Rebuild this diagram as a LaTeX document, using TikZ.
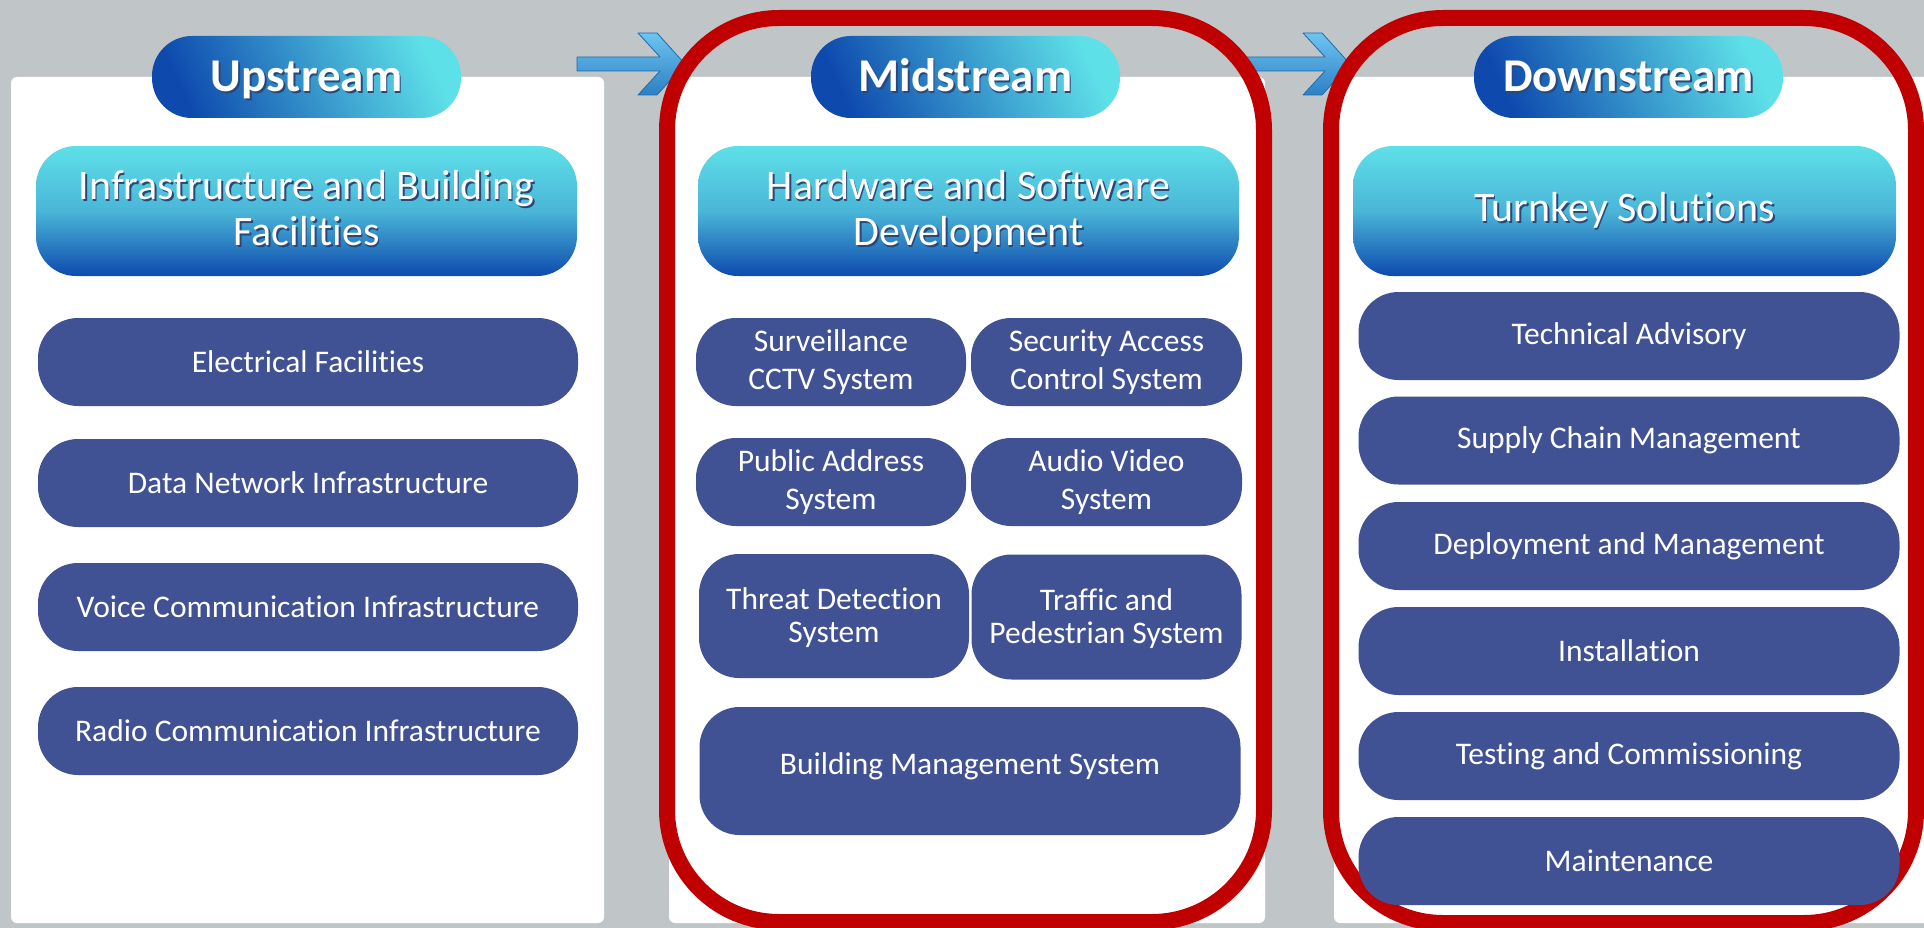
\documentclass[tikz,border=0pt]{standalone}
\usepackage{fontspec}
\setmainfont{Carlito}[Ligatures=NoCommon]
\usetikzlibrary{calc}

\definecolor{bggray}{RGB}{192,198,199}
\definecolor{itemblue}{RGB}{65,82,148}
\definecolor{framered}{RGB}{192,0,0}
\definecolor{deepblue}{RGB}{14,74,174}
\definecolor{lightcyan}{RGB}{94,224,232}
\definecolor{midcyan}{RGB}{74,182,216}
\definecolor{arrowlight}{RGB}{110,196,240}
\definecolor{arrowblue}{RGB}{44,128,196}
\definecolor{arrowdark}{RGB}{34,104,170}
\definecolor{txtshadow}{RGB}{42,72,118}

\newcommand{\shadowtext}[2][7pt]{\raisebox{0pt}[\dimexpr\height+#1\relax][\depth]{\rlap{\hspace{1.6pt}\raisebox{-1.6pt}{\color{txtshadow}\begin{tabular}{@{}c@{}}#2\end{tabular}}}\begin{tabular}{@{}c@{}}#2\end{tabular}}}
\newcommand{\shiftedtext}[2]{\raisebox{0pt}[\dimexpr\height+#1\relax][\depth]{\begin{tabular}{@{}c@{}}#2\end{tabular}}}

\begin{document}
\begin{tikzpicture}[x=1pt, y=-1pt,
  hdr/.style={rounded corners=40pt, minimum width=309pt, minimum height=82pt, inner sep=0pt, text=white, font=\bfseries\fontsize{47}{56}\selectfont, left color=deepblue, right color=lightcyan, shading angle=115},
  sub/.style={rounded corners=40pt, minimum width=541pt, minimum height=130pt, inner sep=0pt, text=white, font=\fontsize{42}{46}\selectfont, top color=lightcyan, bottom color=deepblue, middle color=midcyan},
  item/.style={rounded corners=40pt, fill=itemblue, minimum height=88pt, inner sep=0pt, text=white, align=center, font=\fontsize{31.5}{38}\selectfont},
  panel/.style={fill=white, rounded corners=6pt},
  redframe/.style={draw=framered, line width=16pt, rounded corners=112pt},
  flow/.style={top color=arrowlight, bottom color=arrowblue, draw=arrowdark, line width=0.8pt, line join=round}]
\useasboundingbox (0,0) rectangle (1924,928);
\clip (0,0) rectangle (1924,928);
\fill[bggray] (0,0) rectangle (1924,928);

\fill[panel] (11,77) rectangle (604,923);
\fill[panel] (669,77) rectangle (1265,923);
\fill[panel] (1334,77) rectangle (1930,923);

\foreach \dx in {0,665} {
 \draw[flow, xshift=\dx pt] (577,57) -- (660,57) -- (638,33) -- (657,33) -- (685,64) -- (657,95) -- (638,95) -- (660,71) -- (577,71) -- cycle;
}

\draw[redframe] (667,18) rectangle (1264,922);
\draw[redframe] (1331,18) rectangle (1916,923);

\node[hdr] (up) at (306.5,77) {\shadowtext[9pt]{Upstream}};
\node[hdr] (mid) at (965.5,77) {\shadowtext[9pt]{Midstream}};
\node[hdr] (down) at (1628.5,77) {\shadowtext[9pt]{Downstream}};

\node[sub] (infra) at (306.5,211) {\shadowtext{Infrastructure and Building\\Facilities}};
\node[sub] (hwsw) at (968.5,211) {\shadowtext{Hardware and Software\\Development}};
\node[sub, minimum width=543pt] (turnkey) at (1624.5,211) {\shadowtext[5pt]{Turnkey Solutions}};

\foreach \y/\name/\txt in {362/elec/Electrical Facilities, 483/data/Data Network Infrastructure, 607/voice/Voice Communication Infrastructure, 731/radio/Radio Communication Infrastructure} {
 \node[item, minimum width=540pt] (\name) at (308,\y) {\txt};
}

\node[item, minimum width=270pt] (cctv) at (831,362) {Surveillance\\CCTV System};
\node[item, minimum width=271pt] (access) at (1106.5,362) {Security Access\\Control System};
\node[item, minimum width=270pt] (pa) at (831,482) {Public Address\\System};
\node[item, minimum width=271pt] (av) at (1106.5,482) {Audio Video\\System};
\node[item, minimum width=270pt, minimum height=124pt, font=\fontsize{31.5}{33}\selectfont] (threat) at (834,616) {\shiftedtext{7pt}{Threat Detection\\System}};
\node[item, minimum width=270pt, minimum height=125pt, font=\fontsize{31.5}{33}\selectfont] (traffic) at (1106.5,617) {\shiftedtext{7pt}{Traffic and\\Pedestrian System}};
\node[item, minimum width=541pt, minimum height=128pt] (bms) at (970,771) {\shiftedtext{-9pt}{Building Management System}};

\foreach \y/\name/\txt in {336/advisory/Technical Advisory, 440.5/supply/Supply Chain Management, 546/deploy/Deployment and Management, 651/install/Installation, 756/testing/Testing and Commissioning, 861/maint/Maintenance} {
 \node[item, minimum width=541pt] (\name) at (1629,\y) {\txt};
}
\end{tikzpicture}
\end{document}
